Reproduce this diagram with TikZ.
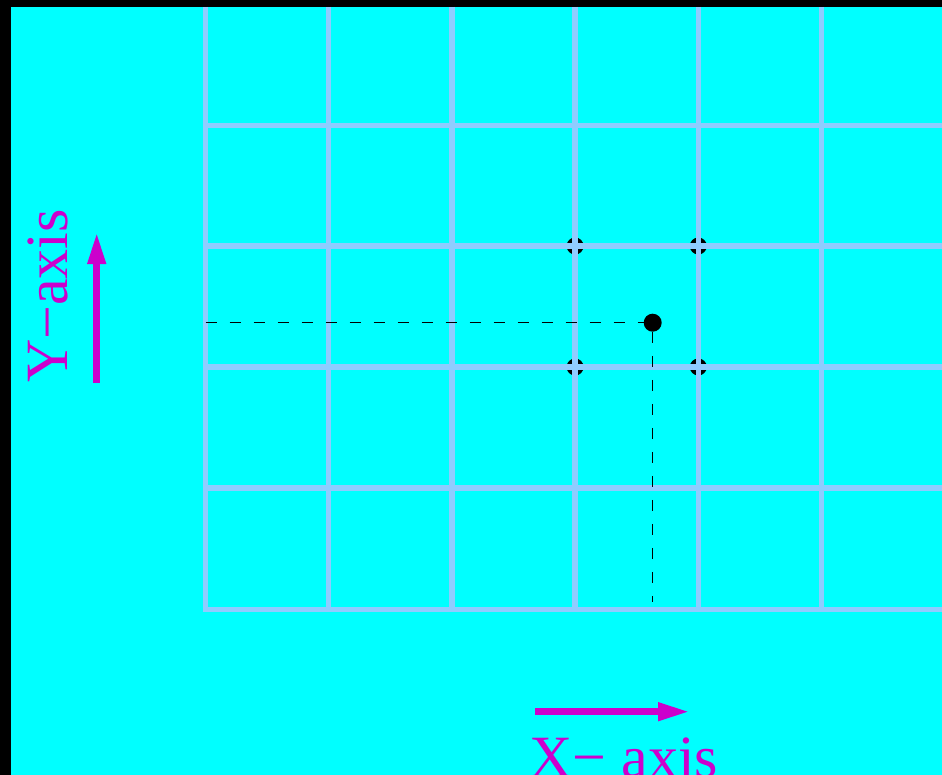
\documentclass[tikz,border=0pt]{standalone}
\usepackage{fontspec}
\setmainfont{Liberation Serif}
\usetikzlibrary{arrows.meta}
\definecolor{bgcyan}{RGB}{0,255,255}
\definecolor{gridblue}{RGB}{143,204,255}
\definecolor{axismag}{RGB}{204,0,204}
\tikzset{
  gridline/.style={draw=gridblue,line width=5.3bp},
  sample/.style={circle,fill=black,inner sep=0pt,minimum size=17bp},
  target/.style={circle,fill=black,inner sep=0pt,minimum size=18bp},
  guide/.style={draw=black,line width=1.3bp,dash pattern=on 11bp off 13bp},
  axisarrow/.style={draw=axismag,line width=7bp,-{Triangle[length=32bp,width=17bp]}},
  axislabel/.style={text=axismag,font=\fontsize{60bp}{60bp}\selectfont,inner sep=0pt}
}
\begin{document}
\begin{tikzpicture}[x=1bp,y=-1bp]
\useasboundingbox (0,0) rectangle (942,775);
\fill[bgcyan] (0,0) rectangle (942,775);
\fill[black] (0,0) rectangle (11,775);
\fill[black] (0,0) rectangle (942,7);
% sample points (under grid)
\node[sample] (p11) at (575.1,246) {};
\node[sample] (p21) at (698.3,246) {};
\node[sample] (p12) at (575.1,367) {};
\node[sample] (p22) at (698.3,367) {};
% grid
\foreach \x in {205.5,328.7,451.9,575.1,698.3,821.5}
  \draw[gridline] (\x,7) -- (\x,612.2);
\foreach \y in {125.5,246,367,488,609.5}
  \draw[gridline] (202.8,\y) -- (942,\y);
\fill[black] (0,7) rectangle (11,775);
% target point
\node[target] (pt) at (652.7,322.7) {};
\coordinate (yfoot) at (205.5,322.7);
\coordinate (xfoot) at (652.7,602);
\draw[guide] (yfoot) -- (pt.west);
\draw[guide] (pt.south) -- (xfoot);
% axes
\coordinate (ya) at (96.7,383);
\coordinate (yb) at (96.7,232);
\draw[axisarrow] (ya) -- (yb);
\node[axislabel,rotate=90,anchor=base west] (ylab) at (67,383) {Y−axis};
\coordinate (xa) at (535,711.7);
\coordinate (xb) at (690,711.7);
\draw[axisarrow] (xa) -- (xb);
\node[axislabel,anchor=base west] (xlab) at (529,777) {X− axis};
\end{tikzpicture}
\end{document}
